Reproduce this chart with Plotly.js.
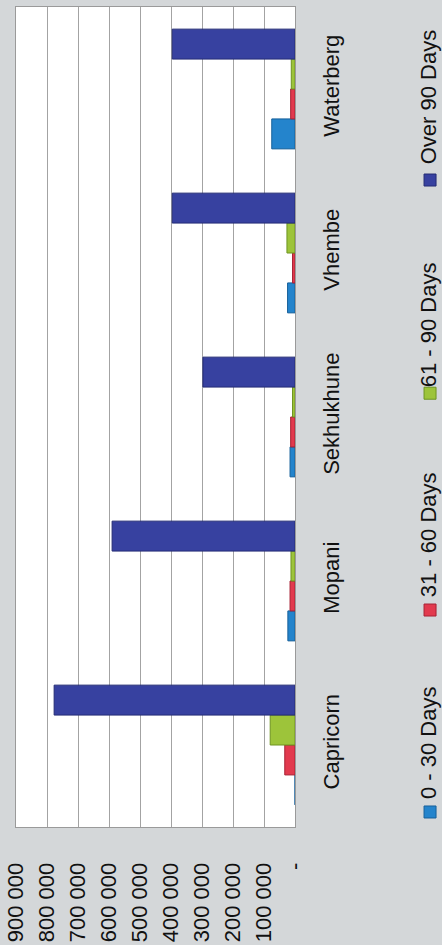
<!DOCTYPE html>
<html>
<head>
<meta charset="utf-8">
<script src="https://cdn.plot.ly/plotly-3.0.1.min.js"></script>
<style>
  html, body { margin: 0; padding: 0; background: #D4D7D9; }
  #chart { width: 442px; height: 945px; }
</style>
</head>
<body>
<div id="chart"></div>
<script>
// Data read from the (rotated) reference chart
const categories = ["Capricorn", "Mopani", "Sekhukhune", "Vhembe", "Waterberg"];
const seriesNames = ["0 - 30 Days", "31 - 60 Days", "61 - 90 Days", "Over 90 Days"];
const days0to30  = [0, 23000, 16000, 24000, 75000];
const days31to60 = [33000, 16000, 14000, 8000, 14000];
const days61to90 = [80000, 13000, 8000, 26000, 12000];
const over90     = [777000, 590000, 297000, 396000, 396000];
const tickValues = [900000, 800000, 700000, 600000, 500000, 400000, 300000, 200000, 100000, 0];
const tickLabels = ["900 000", "800 000", "700 000", "600 000", "500 000", "400 000", "300 000", "200 000", "100 000", "-"];

const seriesValues = [days0to30, days31to60, days61to90, over90];
const colors = ["#2484CC", "#E23A4E", "#9DC43A", "#3741A0"];
const edgeColors = ["#17609A", "#A82234", "#6E9420", "#242C75"];

const FONT = "Liberation Sans, Arial, sans-serif";

const traces = seriesValues.map((vals, i) => ({
  type: "bar",
  orientation: "h",
  name: seriesNames[i],
  y: categories,
  x: vals,
  marker: { color: colors[i], line: { color: edgeColors[i], width: 1 } },
  hoverinfo: "none"
}));

// Rotated legend built from annotations + square shapes
const legendText = [0.1024, 0.356, 0.612, 0.890];
const legendMark = [0.0183, 0.2646, 0.529, 0.789];
const annotations = seriesNames.map((n, i) => ({
  xref: "paper", yref: "paper",
  x: 1.477, y: legendText[i],
  xanchor: "center", yanchor: "middle",
  text: n, textangle: -90, showarrow: false,
  font: { family: FONT, size: 22, color: "#111" }
}));
const shapes = seriesNames.map((n, i) => ({
  type: "rect", xref: "paper", yref: "paper",
  xsizemode: "pixel", ysizemode: "pixel",
  xanchor: 1.484, yanchor: legendMark[i],
  x0: -6, x1: 6, y0: -6, y1: 6,
  fillcolor: colors[i], line: { color: edgeColors[i], width: 1 }
}));

const layout = {
  width: 442, height: 945,
  margin: { l: 16, r: 147, t: 7, b: 118, pad: 0 },
  paper_bgcolor: "#D4D7D9",
  plot_bgcolor: "#FFFFFF",
  barmode: "group",
  bargap: 0.27,
  bargroupgap: 0,
  showlegend: false,
  font: { family: FONT, color: "#111" },
  xaxis: {
    range: [900000, 0],
    tickvals: tickValues,
    ticktext: tickLabels,
    tickangle: -90,
    ticks: "",
    ticklabelstandoff: 26,
    showgrid: true,
    gridcolor: "#A3A3A3",
    gridwidth: 1,
    zeroline: false,
    showline: true,
    linecolor: "#9A9A9A",
    mirror: true,
    tickfont: { family: FONT, size: 22, color: "#111" },
    fixedrange: true
  },
  yaxis: {
    type: "category",
    side: "right",
    tickangle: -90,
    ticks: "",
    ticklabelstandoff: 17,
    showgrid: false,
    zeroline: false,
    showline: true,
    linecolor: "#9A9A9A",
    mirror: true,
    tickfont: { family: FONT, size: 22, color: "#111" },
    fixedrange: true
  },
  annotations: annotations,
  shapes: shapes
};

Plotly.newPlot("chart", traces, layout, { displayModeBar: false, staticPlot: true });
</script>
</body>
</html>
